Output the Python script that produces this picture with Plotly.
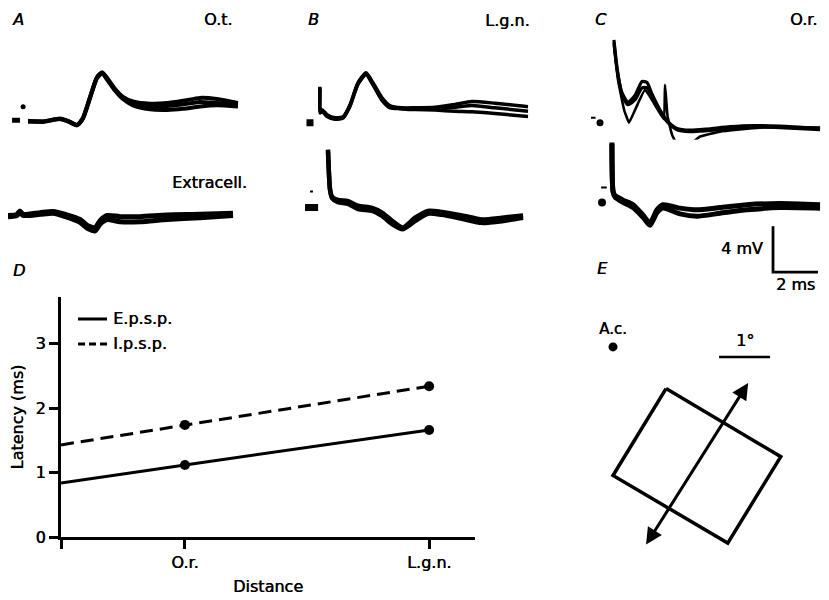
import plotly.graph_objects as go

# page offsets observed in the viewer (body margin) and its vertical rescale
OFF = 8
VSCALE = 608 / 600
W, H = 829 - OFF, 600
PX_PER_MS = 22.5
PX_PER_MV = 11.5
PX_PER_DEG = 51
FONT = "DejaVu Sans"
INK = "black"
SHADOW = "0.5px 0px 0px black"

# ---------------- Panel A (O.t. stimulation) ----------------
A_up_t = [0.58, 1.24, 2.0, 2.36, 2.76, 3.02, 3.33, 3.64, 3.87, 4.13, 4.44, 4.8, 5.24, 6.0, 6.76, 7.47, 8.22, 8.98, 9.91]
A_up_s1 = [0.0, 0.0, 0.25, 0.05, -0.3, 0.3, 2.1, 3.85, 4.3, 3.7, 2.85, 2.15, 1.75, 1.55, 1.6, 1.8, 2.05, 1.95, 1.6]
A_up_s2 = [0.05, -0.05, 0.2, 0.0, -0.35, 0.25, 2.0, 3.75, 4.2, 3.55, 2.7, 2.0, 1.55, 1.3, 1.35, 1.5, 1.7, 1.6, 1.45]
A_up_s3 = [0.0, 0.0, 0.2, 0.0, -0.3, 0.3, 2.05, 3.8, 4.25, 3.6, 2.75, 1.95, 1.4, 1.05, 1.0, 1.1, 1.3, 1.4, 1.3]

A_lo_t = [-0.31, 0.09, 0.22, 0.36, 1.11, 1.69, 2.31, 2.89, 3.24, 3.56, 3.78, 4.09, 4.67, 5.56, 6.76, 8.22, 9.69]
A_lo_s1 = [0.05, 0.15, 0.45, 0.15, 0.3, 0.4, 0.1, -0.3, -0.85, -1.0, -0.4, 0.05, -0.05, -0.05, 0.1, 0.15, 0.25]
A_lo_s2 = [-0.05, 0.05, 0.35, 0.05, 0.15, 0.25, -0.1, -0.55, -1.1, -1.3, -0.7, -0.3, -0.5, -0.5, -0.3, -0.15, 0.05]

# ---------------- Panel B (L.g.n. stimulation) ----------------
B_up_t = [0.44, 0.45, 0.53, 0.76, 1.11, 1.47, 1.78, 2.13, 2.49, 2.8, 3.2, 3.56, 4.09, 4.67, 5.56, 6.44, 7.2, 8.22, 9.69]
B_up_s1 = [3.13, 0.96, 1.13, 0.70, 0.43, 0.52, 1.57, 3.48, 4.35, 3.48, 2.17, 1.48, 1.30, 1.30, 1.35, 1.6, 1.85, 1.7, 1.4]
B_up_s2 = [3.0, 0.9, 1.05, 0.6, 0.35, 0.45, 1.5, 3.4, 4.25, 3.35, 1.95, 1.3, 1.25, 1.25, 1.3, 1.35, 1.5, 1.3, 1.0]
B_up_s3 = [2.9, 0.85, 1.0, 0.55, 0.3, 0.4, 1.45, 3.35, 4.2, 3.3, 2.05, 1.4, 1.2, 1.15, 1.1, 1.0, 0.95, 0.8, 0.55]

B_lo_t = [0.8, 0.89, 0.98, 1.24, 1.69, 2.13, 2.76, 3.2, 3.64, 4.13, 4.67, 5.24, 5.87, 6.76, 7.64, 8.53, 9.47]
B_lo_s1 = [5.04, 1.6, 0.95, 0.65, 0.55, 0.15, -0.05, -0.45, -1.15, -1.75, -0.9, -0.3, -0.4, -0.7, -1.05, -0.9, -0.7]
B_lo_s2 = [4.9, 1.5, 0.8, 0.45, 0.3, -0.15, -0.3, -0.75, -1.45, -1.9, -1.2, -0.55, -0.65, -1.0, -1.35, -1.2, -0.9]

# ---------------- Panel C (O.r. stimulation) ----------------
C_up_t1 = [0.62, 0.76, 0.98, 1.24, 1.56, 1.87, 2.09, 2.31, 2.67, 3.02, 3.42, 4.0, 4.76, 5.78, 6.8, 8.0, 9.78]
C_up_s1 = [7.22, 4.78, 2.43, 1.57, 2.0, 3.04, 3.04, 2.26, 0.96, 0.0, -0.61, -0.78, -0.70, -0.52, -0.35, -0.43, -0.61]
C_up_s3 = [7.0, 4.6, 2.6, 1.8, 2.4, 3.6, 3.5, 2.5, 1.1, 0.1, -0.5, -0.65, -0.55, -0.35, -0.25, -0.3, -0.5]
C_up_t2 = [0.62, 0.8, 1.07, 1.29, 1.6, 2.0, 2.44, 2.84, 2.89, 3.0, 3.2, 3.56, 4.0, 4.44, 5.33, 7.1, 9.78]
C_up_s2 = [6.78, 3.74, 1.13, 0.0, 1.30, 2.87, 1.57, 0.3, 3.3, 0.6, -1.04, -2.35, -1.91, -1.22, -0.78, -0.43, -0.43]

C_lo_t = [0.53, 0.58, 0.67, 1.02, 1.47, 1.91, 2.22, 2.53, 2.8, 3.56, 4.31, 5.33, 6.53, 8.0, 9.78]
C_lo_s1 = [5.22, 1.0, 0.6, 0.2, -0.2, -1.1, -1.8, -0.65, -0.2, -0.5, -0.65, -0.45, -0.2, -0.1, -0.2]
C_lo_s2 = [5.1, 0.9, 0.45, 0.0, -0.45, -1.3, -2.0, -0.9, -0.5, -1.0, -1.2, -0.95, -0.65, -0.45, -0.5]

# scale bars
SCALE_MS = 2
SCALE_MV = 4

# ---------------- Panel D (latency vs distance) ----------------
D_sites = ["", "O.r.", "L.g.n."]
D_distance = [0.0, 1.0, 2.97]
D_epsp = [0.84, 1.12, 1.66]
D_ipsp = [1.43, 1.74, 2.34]
D_yticks = [0, 1, 2, 3]

# ---------------- Panel E (receptive field, degrees) ----------------
E_square_x = [1.04, 3.29, 2.25, 0.0, 1.04]
E_square_y = [-0.82, -2.16, -3.86, -2.53, -0.82]
E_arrow_from = (0.63, -3.92)
E_arrow_to = (2.65, -0.71)
E_scale_deg = 1


def px_x(p):
    return (p - OFF) / W


def px_y(p):
    return 1 - (p * VSCALE - OFF) / H


def tfont(size=16):
    return dict(family=FONT, size=size, color=INK, shadow=SHADOW)


fig = go.Figure()
layout = dict(
    width=W, height=H, margin=dict(l=0, r=0, t=0, b=0),
    paper_bgcolor="white", plot_bgcolor="white", showlegend=False,
    hovermode=False, font=tfont(16),
)

# trace panel axes: (x px range, stim px, y px range, baseline px)
panels = {
    1: ((8, 270), 15, (30, 160), 121.7),
    2: ((8, 270), 15, (140, 300), 216.7),
    3: ((290, 550), 310, (30, 160), 123),
    4: ((290, 550), 310, (140, 300), 208),
    5: ((570, 829), 600, (30, 160), 123),
    6: ((570, 829), 600, (140, 300), 203),
}
for i, ((xl, xr), sx, (yt, yb), base) in panels.items():
    layout[f"xaxis{i}"] = dict(domain=[px_x(xl), px_x(xr)], range=[(xl - sx) / PX_PER_MS, (xr - sx) / PX_PER_MS],
                               visible=False, anchor=f"y{i}")
    layout[f"yaxis{i}"] = dict(domain=[px_y(yb), px_y(yt)], range=[(base - yb) / PX_PER_MV, (base - yt) / PX_PER_MV],
                               visible=False, anchor=f"x{i}")


def sweep(t, v, ax, width=3.0, smoothing=0.6):
    fig.add_trace(go.Scatter(x=t, y=v, mode="lines", xaxis=f"x{ax}", yaxis=f"y{ax}",
                             line=dict(color=INK, width=width, shape="spline", smoothing=smoothing)))


def seg(t, v, ax, width):
    fig.add_trace(go.Scatter(x=t, y=v, mode="lines", xaxis=f"x{ax}", yaxis=f"y{ax}",
                             line=dict(color=INK, width=width)))


def dot(t, v, ax, size, symbol="circle"):
    fig.add_trace(go.Scatter(x=t if isinstance(t, list) else [t], y=v if isinstance(v, list) else [v],
                             mode="markers", xaxis=f"x{ax}", yaxis=f"y{ax}",
                             marker=dict(color=INK, size=size, symbol=symbol, opacity=1, line=dict(width=0))))


# Panel A
for s in (A_up_s1, A_up_s2, A_up_s3):
    sweep(A_up_t, s, 1, 4)
seg([-0.13, 0.22], [0.1, 0.1], 1, 5)
dot(0.36, 1.28, 1, 5)
for s in (A_lo_s1, A_lo_s2):
    sweep(A_lo_t, s, 2, 5)

# Panel B
for s in (B_up_s1, B_up_s2, B_up_s3):
    sweep(B_up_t, s, 3, 3.5)
dot(0.0, 0.0, 3, 7, "square")
for s in (B_lo_s1, B_lo_s2):
    sweep(B_lo_t, s, 4, 4.5)
seg([-0.22, 0.36], [0.0, 0.0], 4, 7)
seg([0.0, 0.13], [1.39, 1.39], 4, 2)

# Panel C
sweep(C_up_t1, C_up_s1, 5, 3.2)
sweep(C_up_t1, C_up_s3, 5, 3.2)
sweep(C_up_t2, C_up_s2, 5, 2.6, 0.3)
dot(0.0, 0.0, 5, 7)
seg([-0.4, -0.2], [0.43, 0.43], 5, 2)
sweep(C_lo_t, C_lo_s1, 6, 5)
sweep(C_lo_t, C_lo_s2, 6, 5)
dot(0.09, 0.0, 6, 8)
seg([0.05, 0.3], [1.3, 1.3], 6, 2)

# scale bar on panel C lower axes
sb_t, sb_v = 7.69, -6.09
fig.add_trace(go.Scatter(x=[sb_t, sb_t, sb_t + SCALE_MS], y=[sb_v + SCALE_MV, sb_v, sb_v], mode="lines",
                         xaxis="x6", yaxis="y6", line=dict(color=INK, width=2.8)))

annotations = []


def note(text, x, y, xanchor="center", size=16, italic=False):
    annotations.append(dict(text=f"<i>{text}</i>" if italic else text, x=px_x(x), y=px_y(y),
                            xref="paper", yref="paper", xanchor=xanchor, yanchor="middle",
                            showarrow=False, font=tfont(size)))


note(f"{SCALE_MV} mV", 765, 249, "right")
note(f"{SCALE_MS} ms", 795, 285)

# panel letters and titles
note("A", 10, 19, "left", italic=True)
note("B", 306, 19, "left", italic=True)
note("C", 593, 19, "left", italic=True)
note("D", 11, 271, "left", italic=True)
note("E", 595, 269, "left", italic=True)
note("O.t.", 234, 19, "right")
note("L.g.n.", 531, 20, "right")
note("O.r.", 819, 19, "right")
note("Extracell.", 249, 183, "right")

# ---------------- Panel D ----------------
layout["xaxis7"] = dict(domain=[px_x(61), px_x(475)], range=[0, 3.34], anchor="y7",
                        showline=True, linewidth=3, linecolor=INK, ticks="outside", ticklen=9, tickwidth=3,
                        tickcolor=INK, tickvals=D_distance, ticktext=D_sites, showgrid=False, zeroline=False,
                        tickfont=tfont(16), title=dict(text="Distance", font=tfont(16), standoff=10))
layout["yaxis7"] = dict(domain=[px_y(539), px_y(298)], range=[0, 3.72], anchor="x7",
                        showline=True, linewidth=3, linecolor=INK, ticks="outside", ticklen=9, tickwidth=3,
                        tickcolor=INK, tickvals=D_yticks, showgrid=False, zeroline=False,
                        tickfont=tfont(16), title=dict(text="Latency (ms)", font=tfont(16), standoff=11))

fig.add_trace(go.Scatter(x=D_distance, y=D_ipsp, mode="lines", xaxis="x7", yaxis="y7",
                         line=dict(color=INK, width=3, dash="13px,7px")))
fig.add_trace(go.Scatter(x=D_distance, y=D_epsp, mode="lines", xaxis="x7", yaxis="y7",
                         line=dict(color=INK, width=3)))
dot(D_distance[1:] + D_distance[1:], D_ipsp[1:] + D_epsp[1:], 7, 10)

shapes = [
    dict(type="line", xref="paper", yref="paper", x0=px_x(78), x1=px_x(107), y0=px_y(320), y1=px_y(320),
         line=dict(color=INK, width=3)),
    dict(type="line", xref="paper", yref="paper", x0=px_x(78), x1=px_x(107), y0=px_y(345), y1=px_y(345),
         line=dict(color=INK, width=3, dash="7px,4px")),
]
note("E.p.s.p.", 111, 320, "left")
note("I.p.s.p.", 111, 345, "left")

# ---------------- Panel E ----------------
ac_px, ac_py = 613, 348
ex0, ex1, ey0, ey1 = 570, 829, 300, 600
layout["xaxis8"] = dict(domain=[px_x(ex0), px_x(ex1)], range=[(ex0 - ac_px) / PX_PER_DEG, (ex1 - ac_px) / PX_PER_DEG],
                        visible=False, anchor="y8")
layout["yaxis8"] = dict(domain=[px_y(ey1), px_y(ey0)], range=[(ac_py - ey1) / PX_PER_DEG, (ac_py - ey0) / PX_PER_DEG],
                        visible=False, anchor="x8")
fig.add_trace(go.Scatter(x=E_square_x, y=E_square_y, mode="lines", xaxis="x8", yaxis="y8",
                         line=dict(color=INK, width=3.5)))
dot(0, 0, 8, 9)
annotations.append(dict(x=0, y=0.36, xref="x8", yref="y8", text="A.c.", showarrow=False, font=tfont(15)))
sx0, sy0 = 2.08, -0.2
fig.add_trace(go.Scatter(x=[sx0, sx0 + E_scale_deg], y=[sy0, sy0], mode="lines", xaxis="x8", yaxis="y8",
                         line=dict(color=INK, width=2.5)))
annotations.append(dict(x=sx0 + E_scale_deg / 2, y=0.12, xref="x8", yref="y8", text=f"{E_scale_deg}°",
                        showarrow=False, font=tfont(16)))
annotations.append(dict(x=E_arrow_to[0], y=E_arrow_to[1], ax=E_arrow_from[0], ay=E_arrow_from[1],
                        xref="x8", yref="y8", axref="x8", ayref="y8", text="", showarrow=True,
                        arrowhead=2, startarrowhead=2, arrowside="end+start", arrowwidth=3, arrowsize=1.1,
                        startarrowsize=1.1, arrowcolor=INK))

layout["annotations"] = annotations
layout["shapes"] = shapes
fig.update_layout(**layout)
fig.write_html("out.html")
